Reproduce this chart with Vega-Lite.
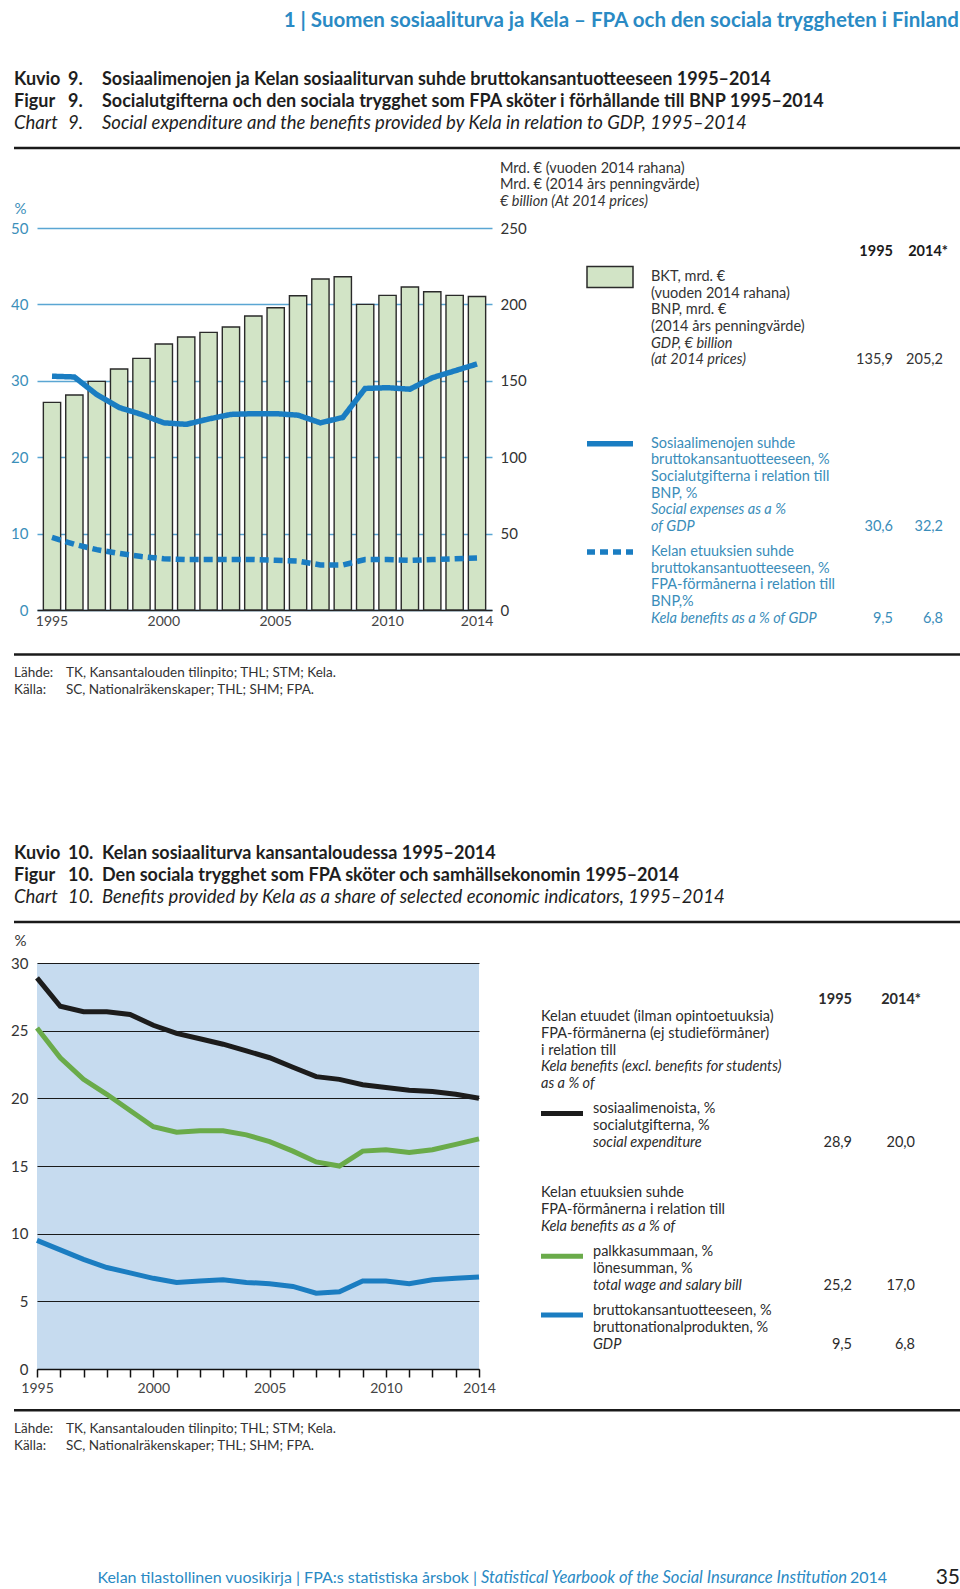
{
  "$schema": "https://vega.github.io/schema/vega-lite/v6.json",
  "background": "white",
  "padding": {"left": 10, "top": 0, "right": 0, "bottom": 0},
  "spacing": 0,
  "bounds": "flush",
  "align": "each",
  "columns": 3,
  "resolve": {"scale": {"color": "independent", "strokeDash": "independent"}},
  "config": {
    "view": {"stroke": null},
    "font": "Lato, Open Sans, sans-serif",
    "axis": {"labelFont": "Lato, Open Sans, sans-serif", "titleFont": "Lato, Open Sans, sans-serif"}
  },
  "datasets": {
    "chart9": [
      {"year": 1995, "gdp": 135.9, "social": 30.6, "kela": 9.5},
      {"year": 1996, "gdp": 140.7, "social": 30.5, "kela": 8.6},
      {"year": 1997, "gdp": 149.6, "social": 28.2, "kela": 7.9},
      {"year": 1998, "gdp": 157.7, "social": 26.5, "kela": 7.4},
      {"year": 1999, "gdp": 164.7, "social": 25.6, "kela": 7.0},
      {"year": 2000, "gdp": 174.1, "social": 24.5, "kela": 6.7},
      {"year": 2001, "gdp": 178.7, "social": 24.3, "kela": 6.6},
      {"year": 2002, "gdp": 181.7, "social": 25.0, "kela": 6.6},
      {"year": 2003, "gdp": 185.2, "social": 25.6, "kela": 6.6},
      {"year": 2004, "gdp": 192.4, "social": 25.7, "kela": 6.6},
      {"year": 2005, "gdp": 197.8, "social": 25.7, "kela": 6.5},
      {"year": 2006, "gdp": 205.7, "social": 25.5, "kela": 6.4},
      {"year": 2007, "gdp": 216.6, "social": 24.5, "kela": 5.9},
      {"year": 2008, "gdp": 218.1, "social": 25.2, "kela": 5.9},
      {"year": 2009, "gdp": 200.0, "social": 29.0, "kela": 6.6},
      {"year": 2010, "gdp": 205.9, "social": 29.1, "kela": 6.6},
      {"year": 2011, "gdp": 211.4, "social": 28.9, "kela": 6.5},
      {"year": 2012, "gdp": 208.3, "social": 30.4, "kela": 6.6},
      {"year": 2013, "gdp": 205.9, "social": 31.3, "kela": 6.7},
      {"year": 2014, "gdp": 205.2, "social": 32.2, "kela": 6.8}
    ],
    "chart10": [
      {"year": 1995, "expenditure": 28.9, "wages": 25.2, "gdp": 9.5},
      {"year": 1996, "expenditure": 26.8, "wages": 23.0, "gdp": 8.8},
      {"year": 1997, "expenditure": 26.4, "wages": 21.4, "gdp": 8.1},
      {"year": 1998, "expenditure": 26.4, "wages": 20.3, "gdp": 7.5},
      {"year": 1999, "expenditure": 26.2, "wages": 19.1, "gdp": 7.1},
      {"year": 2000, "expenditure": 25.4, "wages": 17.9, "gdp": 6.7},
      {"year": 2001, "expenditure": 24.8, "wages": 17.5, "gdp": 6.4},
      {"year": 2002, "expenditure": 24.4, "wages": 17.6, "gdp": 6.5},
      {"year": 2003, "expenditure": 24.0, "wages": 17.6, "gdp": 6.6},
      {"year": 2004, "expenditure": 23.5, "wages": 17.3, "gdp": 6.4},
      {"year": 2005, "expenditure": 23.0, "wages": 16.8, "gdp": 6.3},
      {"year": 2006, "expenditure": 22.3, "wages": 16.1, "gdp": 6.1},
      {"year": 2007, "expenditure": 21.6, "wages": 15.3, "gdp": 5.6},
      {"year": 2008, "expenditure": 21.4, "wages": 15.0, "gdp": 5.7},
      {"year": 2009, "expenditure": 21.0, "wages": 16.1, "gdp": 6.5},
      {"year": 2010, "expenditure": 20.8, "wages": 16.2, "gdp": 6.5},
      {"year": 2011, "expenditure": 20.6, "wages": 16.0, "gdp": 6.3},
      {"year": 2012, "expenditure": 20.5, "wages": 16.2, "gdp": 6.6},
      {"year": 2013, "expenditure": 20.3, "wages": 16.6, "gdp": 6.7},
      {"year": 2014, "expenditure": 20.0, "wages": 17.0, "gdp": 6.8}
    ],
    "title9": [
      {"line": 0, "lang": "fi", "label": "Kuvio", "num": "9.", "title": "Sosiaalimenojen ja Kelan sosiaaliturvan suhde bruttokansantuotteeseen 1995–2014"},
      {"line": 1, "lang": "sv", "label": "Figur", "num": "9.", "title": "Socialutgifterna och den sociala trygghet som FPA sköter i förhållande till BNP 1995–2014"},
      {"line": 2, "lang": "en", "label": "Chart", "num": "9.", "title": "Social expenditure and the benefits provided by Kela in relation to GDP, 1995–2014"}
    ],
    "title10": [
      {"line": 0, "lang": "fi", "label": "Kuvio", "num": "10.", "title": "Kelan sosiaaliturva kansantaloudessa 1995–2014"},
      {"line": 1, "lang": "sv", "label": "Figur", "num": "10.", "title": "Den sociala trygghet som FPA sköter och samhällsekonomin 1995–2014"},
      {"line": 2, "lang": "en", "label": "Chart", "num": "10.", "title": "Benefits provided by Kela as a share of selected economic indicators, 1995–2014"}
    ],
    "sources": [
      {"line": 0, "label": "Lähde:", "text": "TK, Kansantalouden tilinpito; THL; STM; Kela."},
      {"line": 1, "label": "Källa:", "text": "SC, Nationalräkenskaper; THL; SHM; FPA."}
    ],
    "legend9": [
      {"series": "unit", "line": -6.5, "lang": "fi", "text": "Mrd. € (vuoden 2014 rahana)"},
      {"series": "unit", "line": -5.5, "lang": "sv", "text": "Mrd. € (2014 års penningvärde)"},
      {"series": "unit", "line": -4.5, "lang": "en", "text": "€ billion (At 2014 prices)"},
      {"series": "gdp", "line": 0, "lang": "fi", "text": "BKT, mrd. €"},
      {"series": "gdp", "line": 1, "lang": "fi", "text": "(vuoden 2014 rahana)"},
      {"series": "gdp", "line": 2, "lang": "sv", "text": "BNP, mrd. €"},
      {"series": "gdp", "line": 3, "lang": "sv", "text": "(2014 års penningvärde)"},
      {"series": "gdp", "line": 4, "lang": "en", "text": "GDP, € billion"},
      {"series": "gdp", "line": 5, "lang": "en", "text": "(at 2014 prices)"},
      {"series": "social", "line": 10, "lang": "fi", "text": "Sosiaalimenojen suhde"},
      {"series": "social", "line": 11, "lang": "fi", "text": "bruttokansantuotteeseen, %"},
      {"series": "social", "line": 12, "lang": "sv", "text": "Socialutgifterna i relation till"},
      {"series": "social", "line": 13, "lang": "sv", "text": "BNP, %"},
      {"series": "social", "line": 14, "lang": "en", "text": "Social expenses as a %"},
      {"series": "social", "line": 15, "lang": "en", "text": "of GDP"},
      {"series": "kela", "line": 16.5, "lang": "fi", "text": "Kelan etuuksien suhde"},
      {"series": "kela", "line": 17.5, "lang": "fi", "text": "bruttokansantuotteeseen, %"},
      {"series": "kela", "line": 18.5, "lang": "sv", "text": "FPA-förmånerna i relation till"},
      {"series": "kela", "line": 19.5, "lang": "sv", "text": "BNP,%"},
      {"series": "kela", "line": 20.5, "lang": "en", "text": "Kela benefits as a % of GDP"}
    ],
    "legend9values": [
      {"series": "head", "line": -1.5, "v1995": "1995", "v2014": "2014*"},
      {"series": "gdp", "line": 5, "v1995": "135,9", "v2014": "205,2"},
      {"series": "social", "line": 15, "v1995": "30,6", "v2014": "32,2"},
      {"series": "kela", "line": 20.5, "v1995": "9,5", "v2014": "6,8"}
    ],
    "legend9keys": [
      {"series": "gdp", "line": 0},
      {"series": "social", "line": 10},
      {"series": "kela", "line": 16.5}
    ],
    "legend10": [
      {"series": "intro", "line": 0, "lang": "fi", "text": "Kelan etuudet (ilman opintoetuuksia)"},
      {"series": "intro", "line": 1, "lang": "sv", "text": "FPA-förmånerna (ej studieförmåner)"},
      {"series": "intro", "line": 2, "lang": "sv", "text": "\u00a0\u00a0i relation till"},
      {"series": "intro", "line": 3, "lang": "en", "text": "Kela benefits (excl. benefits for students)"},
      {"series": "intro", "line": 4, "lang": "en", "text": "\u00a0\u00a0as a % of"},
      {"series": "expenditure", "line": 5.5, "lang": "fi", "text": "sosiaalimenoista, %"},
      {"series": "expenditure", "line": 6.5, "lang": "sv", "text": "socialutgifterna, %"},
      {"series": "expenditure", "line": 7.5, "lang": "en", "text": "social expenditure"},
      {"series": "intro", "line": 10.5, "lang": "fi", "text": "Kelan etuuksien suhde"},
      {"series": "intro", "line": 11.5, "lang": "sv", "text": "FPA-förmånerna i relation till"},
      {"series": "intro", "line": 12.5, "lang": "en", "text": "Kela benefits as a % of"},
      {"series": "wages", "line": 14, "lang": "fi", "text": "palkkasummaan, %"},
      {"series": "wages", "line": 15, "lang": "sv", "text": "lönesumman, %"},
      {"series": "wages", "line": 16, "lang": "en", "text": "total wage and salary bill"},
      {"series": "gdp", "line": 17.5, "lang": "fi", "text": "bruttokansantuotteeseen, %"},
      {"series": "gdp", "line": 18.5, "lang": "sv", "text": "bruttonationalprodukten, %"},
      {"series": "gdp", "line": 19.5, "lang": "en", "text": "GDP"}
    ],
    "legend10values": [
      {"series": "head", "line": -1, "v1995": "1995", "v2014": "2014*"},
      {"series": "expenditure", "line": 7.5, "v1995": "28,9", "v2014": "20,0"},
      {"series": "wages", "line": 16, "v1995": "25,2", "v2014": "17,0"},
      {"series": "gdp", "line": 19.5, "v1995": "9,5", "v2014": "6,8"}
    ],
    "legend10keys": [
      {"series": "expenditure", "line": 5.5},
      {"series": "wages", "line": 14},
      {"series": "gdp", "line": 17.5}
    ],
    "footer": [
      {"series": "Kelan tilastollinen vuosikirja | FPA:s statistiska årsbok |", "title": "Statistical Yearbook of the Social Insurance Institution", "year": "2014", "page": "35"}
    ]
  },
  "concat": [
    {
      "width": 23,
      "height": 29,
      "data": {"values": [{"text": "1 | Suomen sosiaaliturva ja Kela – FPA och den sociala tryggheten i Finland"}]},
      "mark": {"type": "text", "align": "right", "baseline": "middle", "fontSize": 20.5, "fontWeight": "bold", "color": "#2a8ac4"},
      "encoding": {
        "x": {"datum": 945, "type": "quantitative", "scale": {"domain": [0, 23], "nice": false, "zero": false}, "axis": null},
        "text": {"field": "text"}
      }
    },
    {"width": 1, "height": 1, "data": {"values": [{"blank": 1}]}, "mark": {"type": "text", "text": ""}},
    {"width": 1, "height": 1, "data": {"values": [{"blank": 1}]}, "mark": {"type": "text", "text": ""}},

    {
      "width": 23,
      "height": 192.3,
      "layer": [
        {
          "data": {"name": "title9"},
          "mark": {"type": "text", "align": "left", "baseline": "middle", "color": "#1e1e1e", "fontSize": {"expr": "datum.lang == 'en' ? 18.5 : 18"}, "fontWeight": {"expr": "datum.lang == 'en' ? 'normal' : 'bold'"}, "fontStyle": {"expr": "datum.lang == 'en' ? 'italic' : 'normal'"}},
          "encoding": {
            "x": {"datum": 0, "type": "quantitative", "scale": {"domain": [0, 23], "nice": false, "zero": false}, "axis": null},
            "y": {"field": "line", "type": "quantitative", "scale": {"domain": [-2.093, 6.851], "reverse": true, "nice": false, "zero": false}, "axis": null},
            "text": {"field": "label"}
          }
        },
        {
          "data": {"name": "title9"},
          "mark": {"type": "text", "align": "left", "baseline": "middle", "color": "#1e1e1e", "fontSize": {"expr": "datum.lang == 'en' ? 18.5 : 18"}, "fontWeight": {"expr": "datum.lang == 'en' ? 'normal' : 'bold'"}, "fontStyle": {"expr": "datum.lang == 'en' ? 'italic' : 'normal'"}},
          "encoding": {
            "x": {"datum": 54, "type": "quantitative"},
            "y": {"field": "line", "type": "quantitative"},
            "text": {"field": "num"}
          }
        },
        {
          "data": {"name": "title9"},
          "mark": {"type": "text", "align": "left", "baseline": "middle", "color": "#1e1e1e", "fontSize": {"expr": "datum.lang == 'en' ? 18.5 : 18"}, "fontWeight": {"expr": "datum.lang == 'en' ? 'normal' : 'bold'"}, "fontStyle": {"expr": "datum.lang == 'en' ? 'italic' : 'normal'"}},
          "encoding": {
            "x": {"datum": 88, "type": "quantitative"},
            "y": {"field": "line", "type": "quantitative"},
            "text": {"field": "title"}
          }
        },
        {
          "data": {"values": [{"rule": "title"}]},
          "mark": {"type": "rule", "color": "#1a1a1a", "strokeWidth": 2.5},
          "encoding": {
            "x": {"datum": 0, "type": "quantitative"},
            "x2": {"datum": 950},
            "y": {"datum": 3.163, "type": "quantitative"}
          }
        }
      ]
    },
    {"width": 1, "height": 1, "data": {"values": [{"blank": 1}]}, "mark": {"type": "text", "text": ""}},
    {"width": 1, "height": 1, "data": {"values": [{"blank": 1}]}, "mark": {"type": "text", "text": ""}},

    {"width": 23, "height": 382, "data": {"values": [{"blank": 1}]}, "mark": {"type": "text", "text": ""}},
    {
      "width": 455,
      "height": 382,
      "data": {"name": "chart9"},
      "layer": [
        {
          "mark": {"type": "bar", "fill": "#d2e4c6", "stroke": "#2a2a2a", "strokeWidth": 1.4},
          "encoding": {
            "x": {"field": "year", "type": "ordinal", "scale": {"paddingInner": 0.227, "paddingOuter": 0.284},
              "axis": {"values": [1995, 2000, 2005, 2010, 2014], "labelAngle": 0, "ticks": false, "domainColor": "#222222", "domainWidth": 1.5, "labelColor": "#444444", "labelFontSize": 14, "labelPadding": 4, "title": null}},
            "y": {"field": "gdp", "type": "quantitative", "scale": {"domain": [0, 250], "nice": false},
              "axis": {"orient": "right", "values": [0, 50, 100, 150, 200, 250], "domain": false, "ticks": false, "grid": false, "labelPadding": 8, "labelFontSize": 15, "labelColor": "#333333", "title": null}}
          }
        },
        {
          "transform": [{"fold": ["social", "kela"], "as": ["series", "pct"]}],
          "mark": {"type": "line", "color": "#1a7dc2", "strokeWidth": 5.5},
          "encoding": {
            "x": {"field": "year", "type": "ordinal"},
            "y": {"field": "pct", "type": "quantitative", "scale": {"domain": [0, 50], "nice": false},
              "axis": {"orient": "left", "values": [0, 10, 20, 30, 40, 50], "grid": true, "gridColor": "#5aa6d3", "gridWidth": 1.3, "domain": false, "ticks": false, "labelPadding": 9, "labelFontSize": 15, "labelColor": "#3b8fba",
                "title": "%", "titleAngle": 0, "titleAlign": "left", "titleBaseline": "middle", "titleX": -23, "titleY": -20, "titleColor": "#3b8fba", "titleFontSize": 15, "titleFontWeight": "normal"}},
            "strokeDash": {"field": "series", "type": "nominal", "scale": {"domain": ["social", "kela"], "range": [[1, 0], [9, 5]]}, "legend": null}
          }
        }
      ],
      "resolve": {"scale": {"y": "independent"}}
    },
    {
      "width": 472,
      "height": 382,
      "layer": [
        {
          "data": {"name": "legend9"},
          "transform": [{"filter": "datum.series != 'unit'"}],
          "mark": {"type": "text", "align": "left", "baseline": "middle", "fontSize": 14.5, "fontStyle": {"expr": "datum.lang == 'en' ? 'italic' : 'normal'"}},
          "encoding": {
            "x": {"datum": 159, "type": "quantitative", "scale": {"domain": [0, 472], "nice": false, "zero": false}, "axis": null},
            "y": {"field": "line", "type": "quantitative", "scale": {"domain": [-2.94, 19.98], "reverse": true, "nice": false, "zero": false}, "axis": null},
            "text": {"field": "text"},
            "color": {"field": "series", "type": "nominal", "scale": {"domain": ["head", "unit", "gdp", "social", "kela"], "range": ["#1a1a1a", "#333333", "#333333", "#3a8dba", "#3a8dba"]}, "legend": null}
          }
        },
        {
          "data": {"name": "legend9"},
          "transform": [{"filter": "datum.series == 'unit'"}],
          "mark": {"type": "text", "align": "left", "baseline": "middle", "fontSize": 14.5, "fontStyle": {"expr": "datum.lang == 'en' ? 'italic' : 'normal'"}},
          "encoding": {
            "x": {"datum": 8, "type": "quantitative"},
            "y": {"field": "line", "type": "quantitative"},
            "text": {"field": "text"},
            "color": {"field": "series", "type": "nominal", "legend": null}
          }
        },
        {
          "data": {"name": "legend9values"},
          "mark": {"type": "text", "align": "right", "baseline": "middle", "fontSize": 14.5, "fontWeight": {"expr": "datum.series == 'head' ? 'bold' : 'normal'"}},
          "encoding": {
            "x": {"datum": 401, "type": "quantitative"},
            "y": {"field": "line", "type": "quantitative"},
            "text": {"field": "v1995"},
            "color": {"field": "series", "type": "nominal", "legend": null}
          }
        },
        {
          "data": {"name": "legend9values"},
          "mark": {"type": "text", "align": "right", "baseline": "middle", "fontSize": 14.5, "fontWeight": {"expr": "datum.series == 'head' ? 'bold' : 'normal'"}, "dx": {"expr": "datum.series == 'head' ? 5 : 0"}},
          "encoding": {
            "x": {"datum": 451, "type": "quantitative"},
            "y": {"field": "line", "type": "quantitative"},
            "text": {"field": "v2014"},
            "color": {"field": "series", "type": "nominal", "legend": null}
          }
        },
        {
          "data": {"name": "legend9keys"},
          "transform": [{"filter": "datum.series == 'gdp'"}],
          "mark": {"type": "point", "shape": "M-1,-0.457L1,-0.457L1,0.457L-1,0.457Z", "size": 2116, "filled": true, "fill": "#d2e4c6", "stroke": "#2a2a2a", "strokeWidth": 1.5, "opacity": 1},
          "encoding": {
            "x": {"datum": 118, "type": "quantitative"},
            "y": {"field": "line", "type": "quantitative"}
          }
        },
        {
          "data": {"name": "legend9keys"},
          "transform": [{"filter": "datum.series != 'gdp'"}],
          "mark": {"type": "rule", "color": "#1a7dc2", "strokeWidth": 5.5},
          "encoding": {
            "x": {"datum": 95, "type": "quantitative"},
            "x2": {"datum": 141},
            "y": {"field": "line", "type": "quantitative"},
            "strokeDash": {"field": "series", "type": "nominal", "scale": {"domain": ["social", "kela"], "range": [[1, 0], [8, 5]]}, "legend": null}
          }
        }
      ]
    },

    {
      "width": 23,
      "height": 151.7,
      "layer": [
        {
          "data": {"name": "sources"},
          "mark": {"type": "text", "align": "left", "baseline": "middle", "fontSize": 13.5, "color": "#333333"},
          "encoding": {
            "x": {"datum": 0, "type": "quantitative", "scale": {"domain": [0, 23], "nice": false, "zero": false}, "axis": null},
            "y": {"field": "line", "type": "quantitative", "scale": {"domain": [-3.819, 5.32], "reverse": true, "nice": false, "zero": false}, "axis": null},
            "text": {"field": "label"}
          }
        },
        {
          "data": {"name": "sources"},
          "mark": {"type": "text", "align": "left", "baseline": "middle", "fontSize": 13.5, "color": "#333333"},
          "encoding": {
            "x": {"datum": 52, "type": "quantitative"},
            "y": {"field": "line", "type": "quantitative"},
            "text": {"field": "text"}
          }
        },
        {
          "data": {"values": [{"rule": "source"}]},
          "mark": {"type": "rule", "color": "#1a1a1a", "strokeWidth": 2.5},
          "encoding": {
            "x": {"datum": 0, "type": "quantitative"},
            "x2": {"datum": 950},
            "y": {"datum": -1.145, "type": "quantitative"}
          }
        }
      ]
    },
    {"width": 1, "height": 1, "data": {"values": [{"blank": 1}]}, "mark": {"type": "text", "text": ""}},
    {"width": 1, "height": 1, "data": {"values": [{"blank": 1}]}, "mark": {"type": "text", "text": ""}},

    {
      "width": 23,
      "height": 201,
      "layer": [
        {
          "data": {"name": "title10"},
          "mark": {"type": "text", "align": "left", "baseline": "middle", "color": "#1e1e1e", "fontSize": {"expr": "datum.lang == 'en' ? 18.5 : 18"}, "fontWeight": {"expr": "datum.lang == 'en' ? 'normal' : 'bold'"}, "fontStyle": {"expr": "datum.lang == 'en' ? 'italic' : 'normal'"}},
          "encoding": {
            "x": {"datum": 0, "type": "quantitative", "scale": {"domain": [0, 23], "nice": false, "zero": false}, "axis": null},
            "y": {"field": "line", "type": "quantitative", "scale": {"domain": [-4.249, 5.035], "reverse": true, "nice": false, "zero": false}, "axis": null},
            "text": {"field": "label"}
          }
        },
        {
          "data": {"name": "title10"},
          "mark": {"type": "text", "align": "left", "baseline": "middle", "color": "#1e1e1e", "fontSize": {"expr": "datum.lang == 'en' ? 18.5 : 18"}, "fontWeight": {"expr": "datum.lang == 'en' ? 'normal' : 'bold'"}, "fontStyle": {"expr": "datum.lang == 'en' ? 'italic' : 'normal'"}},
          "encoding": {
            "x": {"datum": 54, "type": "quantitative"},
            "y": {"field": "line", "type": "quantitative"},
            "text": {"field": "num"}
          }
        },
        {
          "data": {"name": "title10"},
          "mark": {"type": "text", "align": "left", "baseline": "middle", "color": "#1e1e1e", "fontSize": {"expr": "datum.lang == 'en' ? 18.5 : 18"}, "fontWeight": {"expr": "datum.lang == 'en' ? 'normal' : 'bold'"}, "fontStyle": {"expr": "datum.lang == 'en' ? 'italic' : 'normal'"}},
          "encoding": {
            "x": {"datum": 88, "type": "quantitative"},
            "y": {"field": "line", "type": "quantitative"},
            "text": {"field": "title"}
          }
        },
        {
          "data": {"values": [{"rule": "title"}]},
          "mark": {"type": "rule", "color": "#1a1a1a", "strokeWidth": 2.5},
          "encoding": {
            "x": {"datum": 0, "type": "quantitative"},
            "x2": {"datum": 950},
            "y": {"datum": 3.141, "type": "quantitative"}
          }
        }
      ]
    },
    {"width": 1, "height": 1, "data": {"values": [{"blank": 1}]}, "mark": {"type": "text", "text": ""}},
    {"width": 1, "height": 1, "data": {"values": [{"blank": 1}]}, "mark": {"type": "text", "text": ""}},

    {"width": 23, "height": 406, "data": {"values": [{"blank": 1}]}, "mark": {"type": "text", "text": ""}},
    {
      "width": 442,
      "height": 406,
      "view": {"fill": "#c6dbef"},
      "data": {"name": "chart10"},
      "transform": [{"fold": ["expenditure", "wages", "gdp"], "as": ["series", "pct"]}],
      "mark": {"type": "line", "strokeWidth": 5},
      "encoding": {
        "x": {"field": "year", "type": "quantitative", "scale": {"domain": [1995, 2014], "nice": false, "zero": false},
          "axis": {"values": [1995, 1996, 1997, 1998, 1999, 2000, 2001, 2002, 2003, 2004, 2005, 2006, 2007, 2008, 2009, 2010, 2011, 2012, 2013, 2014], "format": "d",
            "labelExpr": "(datum.value % 5 == 0 || datum.value == 2014) ? datum.label : ''", "tickSize": 8, "tickColor": "#111111", "tickWidth": 1.5,
            "domainColor": "#111111", "domainWidth": 1.5, "labelPadding": 4, "labelFontSize": 14, "labelColor": "#444444", "labelFlush": false, "labelOverlap": false, "grid": false, "title": null}},
        "y": {"field": "pct", "type": "quantitative", "scale": {"domain": [0, 30], "nice": false},
          "axis": {"values": [0, 5, 10, 15, 20, 25, 30], "grid": true, "gridColor": "#1a1a1a", "gridWidth": 1.2, "domain": false, "ticks": false, "labelPadding": 9, "labelFontSize": 15, "labelColor": "#333333",
            "title": "%", "titleAngle": 0, "titleAlign": "left", "titleBaseline": "middle", "titleX": -23, "titleY": -23, "titleColor": "#333333", "titleFontSize": 15, "titleFontWeight": "normal"}},
        "color": {"field": "series", "type": "nominal", "scale": {"domain": ["expenditure", "wages", "gdp"], "range": ["#1c1c1c", "#6aab4a", "#1b7dc1"]}, "legend": null}
      }
    },
    {
      "width": 472,
      "height": 406,
      "layer": [
        {
          "data": {"name": "legend10"},
          "transform": [{"filter": "datum.series == 'intro'"}],
          "mark": {"type": "text", "align": "left", "baseline": "middle", "fontSize": 14.5, "color": "#2b2b2b", "fontStyle": {"expr": "datum.lang == 'en' ? 'italic' : 'normal'"}},
          "encoding": {
            "x": {"datum": 49, "type": "quantitative", "scale": {"domain": [0, 472], "nice": false, "zero": false}, "axis": null},
            "y": {"field": "line", "type": "quantitative", "scale": {"domain": [-3.214, 20.952], "reverse": true, "nice": false, "zero": false}, "axis": null},
            "text": {"field": "text"}
          }
        },
        {
          "data": {"name": "legend10"},
          "transform": [{"filter": "datum.series != 'intro'"}],
          "mark": {"type": "text", "align": "left", "baseline": "middle", "fontSize": 14.5, "color": "#2b2b2b", "fontStyle": {"expr": "datum.lang == 'en' ? 'italic' : 'normal'"}},
          "encoding": {
            "x": {"datum": 101, "type": "quantitative"},
            "y": {"field": "line", "type": "quantitative"},
            "text": {"field": "text"}
          }
        },
        {
          "data": {"name": "legend10values"},
          "mark": {"type": "text", "align": "right", "baseline": "middle", "fontSize": 14.5, "color": "#2b2b2b", "fontWeight": {"expr": "datum.series == 'head' ? 'bold' : 'normal'"}},
          "encoding": {
            "x": {"datum": 360, "type": "quantitative"},
            "y": {"field": "line", "type": "quantitative"},
            "text": {"field": "v1995"}
          }
        },
        {
          "data": {"name": "legend10values"},
          "mark": {"type": "text", "align": "right", "baseline": "middle", "fontSize": 14.5, "color": "#2b2b2b", "fontWeight": {"expr": "datum.series == 'head' ? 'bold' : 'normal'"}, "dx": {"expr": "datum.series == 'head' ? 6 : 0"}},
          "encoding": {
            "x": {"datum": 423, "type": "quantitative"},
            "y": {"field": "line", "type": "quantitative"},
            "text": {"field": "v2014"}
          }
        },
        {
          "data": {"name": "legend10keys"},
          "mark": {"type": "rule", "strokeWidth": 5, "yOffset": 4},
          "encoding": {
            "x": {"datum": 49, "type": "quantitative"},
            "x2": {"datum": 91},
            "y": {"field": "line", "type": "quantitative"},
            "color": {"field": "series", "type": "nominal", "scale": {"domain": ["expenditure", "wages", "gdp"], "range": ["#1c1c1c", "#6aab4a", "#1b7dc1"]}, "legend": null}
          }
        }
      ]
    },

    {
      "width": 23,
      "height": 194.3,
      "layer": [
        {
          "data": {"name": "sources"},
          "mark": {"type": "text", "align": "left", "baseline": "middle", "fontSize": 13.5, "color": "#333333"},
          "encoding": {
            "x": {"datum": 0, "type": "quantitative", "scale": {"domain": [0, 23], "nice": false, "zero": false}, "axis": null},
            "y": {"field": "line", "type": "quantitative", "scale": {"domain": [-3.633, 8.072], "reverse": true, "nice": false, "zero": false}, "axis": null},
            "text": {"field": "label"}
          }
        },
        {
          "data": {"name": "sources"},
          "mark": {"type": "text", "align": "left", "baseline": "middle", "fontSize": 13.5, "color": "#333333"},
          "encoding": {
            "x": {"datum": 52, "type": "quantitative"},
            "y": {"field": "line", "type": "quantitative"},
            "text": {"field": "text"}
          }
        },
        {
          "data": {"values": [{"rule": "source"}]},
          "mark": {"type": "rule", "color": "#1a1a1a", "strokeWidth": 2.5},
          "encoding": {
            "x": {"datum": 0, "type": "quantitative"},
            "x2": {"datum": 950},
            "y": {"datum": -1.145, "type": "quantitative"}
          }
        }
      ]
    },
    {"width": 1, "height": 1, "data": {"values": [{"blank": 1}]}, "mark": {"type": "text", "text": ""}},
    {"width": 1, "height": 1, "data": {"values": [{"blank": 1}]}, "mark": {"type": "text", "text": ""}},

    {
      "width": 23,
      "height": 28,
      "data": {"name": "footer"},
      "layer": [
        {
          "mark": {"type": "text", "align": "right", "baseline": "middle", "fontSize": 16, "color": "#2a8ac4"},
          "encoding": {"x": {"datum": 463, "type": "quantitative", "scale": {"domain": [0, 23], "nice": false, "zero": false}, "axis": null}, "text": {"field": "series"}}
        },
        {
          "mark": {"type": "text", "align": "left", "baseline": "middle", "fontSize": 16.5, "fontStyle": "italic", "color": "#2a8ac4"},
          "encoding": {"x": {"datum": 467, "type": "quantitative"}, "text": {"field": "title"}}
        },
        {
          "mark": {"type": "text", "align": "left", "baseline": "middle", "fontSize": 16, "color": "#2a8ac4"},
          "encoding": {"x": {"datum": 836, "type": "quantitative"}, "text": {"field": "year"}}
        },
        {
          "mark": {"type": "text", "align": "right", "baseline": "middle", "fontSize": 21, "color": "#222222"},
          "encoding": {"x": {"datum": 946, "type": "quantitative"}, "text": {"field": "page"}}
        }
      ]
    },
    {"width": 1, "height": 1, "data": {"values": [{"blank": 1}]}, "mark": {"type": "text", "text": ""}},
    {"width": 1, "height": 1, "data": {"values": [{"blank": 1}]}, "mark": {"type": "text", "text": ""}}
  ]
}
